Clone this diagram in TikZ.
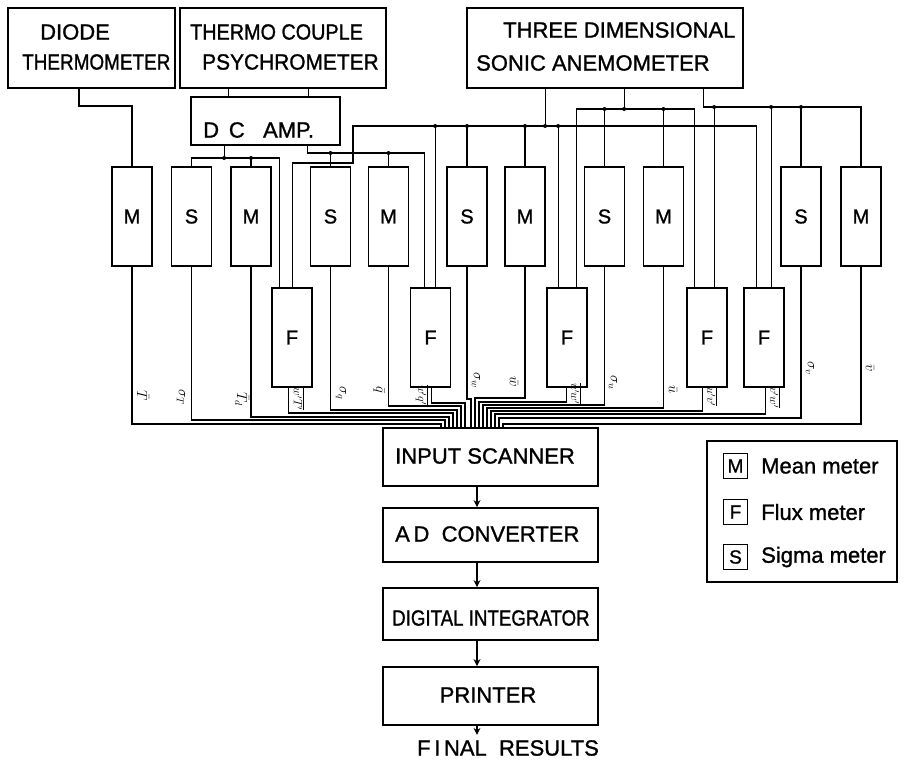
\documentclass[tikz,border=0pt]{standalone}
\usepackage{fontspec}
\setmainfont{Liberation Sans}[FakeBold=1.2]
\usetikzlibrary{calc,arrows.meta}
\begin{document}
\begin{tikzpicture}[x=1pt,y=-1pt,
  box/.style={draw,line width=1.8pt,inner sep=0pt},
  meter/.style={box,minimum width=40pt,minimum height=99pt,font=\fontsize{20}{20}\selectfont},
  chain/.style={box,minimum width=215pt},
  wire/.style={line width=1.2pt},
  txt/.style={font=\fontsize{22}{22}\selectfont,inner sep=0pt,anchor=west},
  lab/.style={font=\fontsize{14}{14}\selectfont,rotate=-90,inner sep=0pt},
  flab/.style={lab,font=\fontsize{12}{12}\selectfont},
  arr/.style={wire,-{Stealth[length=7pt,width=7pt]}},
  legkey/.style={draw,line width=1.4pt,inner sep=0pt,minimum width=24pt,minimum height=25pt,font=\fontsize{19}{19}\selectfont}
]
\useasboundingbox (0,0) rectangle (904,760);

% ---------- top sensors ----------
\node[box,minimum width=167pt,minimum height=80pt] (diode) at (91.5,48) {};
\node[box,minimum width=206pt,minimum height=80pt] (tcp) at (283,48) {};
\node[box,minimum width=276pt,minimum height=80pt] (sonic) at (605,48) {};
\node[box,minimum width=149pt,minimum height=48pt] (dcamp) at (265.5,121) {};

\node[txt] (t1) at (40,32) {DIODE};
\node[txt] (t2) at (22,62) {\scalebox{0.86}[1]{THERMOMETER}};
\node[txt] (t3) at (190,32) {\scalebox{0.9}[1]{THERMO COUPLE}};
\node[txt] (t4) at (202,62) {\scalebox{0.95}[1]{PSYCHROMETER}};
\node[txt] (t5) at (503,30) {THREE DIMENSIONAL};
\node[txt] (t6) at (476,63) {SONIC ANEMOMETER};
\node[txt] (t7) at (203,130) {D\, C\ \ \ AMP.};

% ---------- meters ----------
\node[meter] (m1) at (132,216.5) {M};
\node[meter] (s2) at (191.5,216.5) {S};
\node[meter] (m3) at (251,216.5) {M};
\node[meter] (s4) at (330.5,216.5) {S};
\node[meter] (m5) at (388.5,216.5) {M};
\node[meter] (s6) at (467,216.5) {S};
\node[meter] (m7) at (525,216.5) {M};
\node[meter] (s8) at (604.5,216.5) {S};
\node[meter] (m9) at (663.5,216.5) {M};
\node[meter] (s10) at (801,216.5) {S};
\node[meter] (m11) at (861,216.5) {M};

\node[meter] (f1) at (292,337.5) {F};
\node[meter] (f2) at (430.5,337.5) {F};
\node[meter] (f3) at (567,337.5) {F};
\node[meter] (f4) at (707,337.5) {F};
\node[meter] (f5) at (764,337.5) {F};

% flux meter inputs
\coordinate (f1a) at ($(f1.north west)+(8,0)$);
\coordinate (f1b) at ($(f1.north west)+(21,0)$);
\coordinate (f2a) at ($(f2.north west)+(14.5,0)$);
\coordinate (f2b) at ($(f2.north west)+(25.5,0)$);
\coordinate (f3a) at ($(f3.north west)+(12,0)$);
\coordinate (f3b) at ($(f3.north west)+(30,0)$);
\coordinate (f4a) at ($(f4.north west)+(8,0)$);
\coordinate (f4b) at ($(f4.north west)+(28,0)$);
\coordinate (f5a) at ($(f5.north west)+(13,0)$);
\coordinate (f5b) at ($(f5.north west)+(28,0)$);
% flux meter outputs
\coordinate (f1o) at ($(f1.south west)+(17,0)$);
\coordinate (f2o) at ($(f2.south west)+(21.5,0)$);
\coordinate (f3o) at ($(f3.south west)+(20,0)$);
\coordinate (f4o) at ($(f4.south west)+(16,0)$);
\coordinate (f5o) at ($(f5.south west)+(22,0)$);

% bus levels
\coordinate (yD) at (0,106);
\coordinate (yT) at (0,158);
\coordinate (yA) at (0,153);
\coordinate (yJ) at (0,163);
\coordinate (yW) at (0,126);
\coordinate (yU) at (0,109);
\coordinate (yV) at (0,107);
\coordinate (jx) at (353,0);

% diode thermometer -> M
\draw[wire] ($(diode.south)+(-12.5,0)$) |- (yD -| m1.north) -- (m1.north);

% psychrometer -> DC amp
\coordinate (pa) at ($(dcamp.north west)+(38,0)$);
\coordinate (pb) at ($(dcamp.north west)+(118,0)$);
\draw[wire] (pa) -- (pa |- tcp.south);
\draw[wire] (pb) -- (pb |- tcp.south);

% DC amp channel 1
\coordinate (o1) at ($(dcamp.south west)+(34,0)$);
\draw[wire] (o1) -- (o1 |- yT);
\draw[wire] (s2.north) -- (s2.north |- yT) -- (yT -| f1a) -- (f1a);
\draw[wire] (m3.north) -- (m3.north |- yT);
\fill (o1 |- yT) circle (2pt);
\fill (m3.north |- yT) circle (2pt);

% DC amp channel 2
\coordinate (o2) at ($(dcamp.south west)+(117,0)$);
\draw[wire] (o2) -- (o2 |- yA) -- (yA -| f2a) -- (f2a);
\draw[wire] (s4.north) -- (s4.north |- yA);
\draw[wire] (m5.north) -- (m5.north |- yA);
\fill (s4.north |- yA) circle (2pt);
\fill (m5.north |- yA) circle (2pt);

% sonic anemometer outputs
\coordinate (so1) at ($(sonic.south west)+(79,0)$);
\coordinate (so2) at ($(sonic.south west)+(158,0)$);
\coordinate (so3) at ($(sonic.south west)+(237,0)$);

% w bus
\draw[wire] (f1b) -- (f1b |- yJ) -- (yJ -| jx) -- (jx |- yW) -- (yW -| f5a) -- (f5a);
\draw[wire] (so1) -- (so1 |- yW);
\draw[wire] (f2b) -- (f2b |- yW);
\draw[wire] (s6.north) -- (s6.north |- yW);
\draw[wire] (m7.north) -- (m7.north |- yW);
\draw[wire] (f3a) -- (f3a |- yW);
\foreach \p in {f2b,s6.north,m7.north,so1,f3a} \fill (\p |- yW) circle (2pt);

% u bus
\draw[wire] (so2) -- (so2 |- yU);
\draw[wire] (f3b) -- (f3b |- yU) -- (yU -| f4a) -- (f4a);
\draw[wire] (s8.north) -- (s8.north |- yU);
\draw[wire] (m9.north) -- (m9.north |- yU);
\foreach \p in {s8.north,so2,m9.north} \fill (\p |- yU) circle (2pt);

% v bus
\draw[wire] (so3) -- (so3 |- yV) -- (yV -| m11.north) -- (m11.north);
\draw[wire] (f4b) -- (f4b |- yV);
\draw[wire] (f5b) -- (f5b |- yV);
\draw[wire] (s10.north) -- (s10.north |- yV);
\foreach \p in {f4b,f5b,s10.north} \fill (\p |- yV) circle (2pt);

% ---------- processing chain ----------
\node[chain,minimum height=58pt] (scan) at (490.5,457) {};
\node[txt] (scant) at (395,456) {INPUT SCANNER};
\node[chain,minimum height=54pt] (adc) at (490.5,535) {};
\node[txt] (adct) at (395,534) {A\,D\ \ CONVERTER};
\node[chain,minimum height=52pt] (dint) at (490.5,614) {};
\node[txt] (dintt) at (392,618) {\scalebox{0.85}[1]{DIGITAL INTEGRATOR}};
\node[chain,minimum height=58pt] (prn) at (490.5,696) {};
\node[font=\fontsize{22}{22}\selectfont,inner sep=0pt] (prnt) at (488,695) {PRINTER};
\node[font=\fontsize{22}{22}\selectfont,inner sep=0pt] (fin) at (508,748) {F\,I\,NAL\ \ RESULTS};

\coordinate (end) at ($(prn.south)+(-13.5,9)$);
\draw[arr] ($(scan.south)+(-13.5,0)$) -- ($(adc.north)+(-13.5,0)$);
\draw[arr] ($(adc.south)+(-13.5,0)$) -- ($(dint.north)+(-13.5,0)$);
\draw[arr] ($(dint.south)+(-13.5,0)$) -- ($(prn.north)+(-13.5,0)$);
\draw[arr] ($(prn.south)+(-13.5,0)$) -- (end);

% ---------- meter outputs to scanner ----------
\foreach \n/\lv/\dx in {m1.south/424/441, s2.south/420/445, m3.south/417/449, f1o/413/453, s4.south/410/457, m5.south/406/461, f2o/403/465, s6.south/399/471,
                        m7.south/398/475, f3o/402/479, s8.south/405/483, m9.south/408/487, f4o/411/491, f5o/414/495, s10.south/418/499, m11.south/424/503}
  \draw[wire] (\n) |- (\dx,\lv) coordinate (dd) -- (dd |- scan.north);

% output labels
\node[lab] (l1) at (143,396) {$\bar{T}$};
\node[lab] (l2) at (181,397) {$\sigma_{T}$};
\node[lab] (l3) at (242,399) {$\bar{T}_{d}$};
\node[flab] (l4) at (299,399) {$\overline{w'T'}$};
\node[lab] (l5) at (341,393) {$\sigma_{q}$};
\node[lab] (l6) at (379,390) {$\bar{q}$};
\node[flab] (l7) at (422,395) {$\overline{w'q'}$};
\node[lab] (l8) at (476,380) {$\sigma_{w}$};
\node[lab] (l9) at (514,382) {$\bar{w}$};
\node[flab] (l10) at (576,394) {$\overline{u'w'}$};
\node[lab] (l11) at (613,383) {$\sigma_{u}$};
\node[lab] (l12) at (673,390) {$\bar{u}$};
\node[flab] (l13) at (712,397) {$\overline{u'v'}$};
\node[flab] (l14) at (775,398) {$\overline{v'w'}$};
\node[lab] (l15) at (810,368) {$\sigma_{v}$};
\node[lab] (l16) at (870,368) {$\bar{v}$};

% ---------- legend ----------
\node[box,minimum width=190pt,minimum height=141pt] (leg) at (802,511.5) {};
\node[legkey] (km) at (735.5,466) {M};
\node[legkey] (kf) at (735.5,512) {F};
\node[legkey] (ks) at (735.5,557) {S};
\node[txt] (tm) at (761,466) {Mean meter};
\node[txt] (tf) at (761,512) {Flux meter};
\node[txt] (ts) at (761,557) {Sigma meter};
\end{tikzpicture}
\end{document}
